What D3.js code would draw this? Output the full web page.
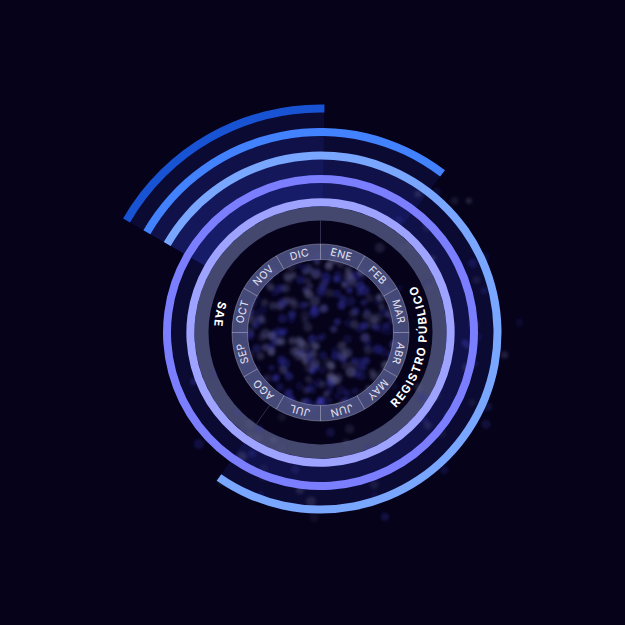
<!DOCTYPE html>
<html>
<head>
<meta charset="utf-8">
<script src="https://cdn.jsdelivr.net/npm/d3@7"></script>
<style>
html,body{margin:0;padding:0;background:#05021a;}
svg{display:block;}
</style>
</head>
<body>
<svg id="chart" width="625" height="625"></svg>
<script>
// ---- data ----
const months = ["ENE","FEB","MAR","ABR","MAY","JUN","JUL","AGO","SEP","OCT","NOV","DIC"];
const ringNames = ["serie1","serie2","serie3","serie4","serie5"];   // outermost -> innermost
const ringSpanDeg = [61, 97.5, 275, 360, 360];                        // angular extent of each ring
const ringStartDeg = 300;                                             // all rings start at the same angle
const groupLabels = ["REGISTRO PÚBLICO", "SAE"];

// ---- styles / layout ----
const ringColors = ["#1853d4", "#4282ff", "#79a6ff", "#7b7eff", "#9ea3ff"];
const labelAngleDeg = [99, 280];
const W = 625, H = 625, cx = 320.5, cy = 332.5;

const svg = d3.select("#chart");
svg.append("rect").attr("width", W).attr("height", H).attr("fill", "#05021a");

const defs = svg.append("defs");
defs.append("filter").attr("id", "blur").attr("x", "-100%").attr("y", "-100%")
  .attr("width", "300%").attr("height", "300%")
  .append("feGaussianBlur").attr("stdDeviation", 1.7);

const g = svg.append("g").attr("transform", `translate(${cx},${cy})`);
const deg = d3.scaleLinear().domain([0, 360]).range([0, 2 * Math.PI]);
const rScale = d3.scaleLinear().domain([0, ringNames.length - 1]).range([224, 130]);
const arc = d3.arc();

// translucent bands behind each ring
g.append("g").selectAll("path").data(ringNames).join("path")
  .attr("d", (d, i) => arc({innerRadius: 126, outerRadius: rScale(i),
      startAngle: deg(ringStartDeg), endAngle: deg(ringStartDeg + ringSpanDeg[i])}))
  .attr("fill", "#2c36b8").attr("fill-opacity", 0.16);

// grey track
g.append("path").attr("d", arc({innerRadius: 112, outerRadius: 126, startAngle: 0, endAngle: 2 * Math.PI}))
  .attr("fill", "#44476e");

// decorative bokeh texture (deterministic)
const rnd = d3.randomLcg(0.3141);
const dotPalette = ["#3030a8", "#3c3cbc", "#565688", "#686892", "#28288e", "#5a5a84"];
const dots = [];
for (let k = 0; k < 300; k++) {
  const a = rnd() * 2 * Math.PI, rr = 80 * Math.sqrt(rnd());
  dots.push({x: rr * Math.sin(a), y: -rr * Math.cos(a), r: 3 + rnd() * 2, c: dotPalette[Math.floor(rnd() * 6)], o: 0.2 + rnd() * 0.28});
}
for (let k = 0; k < 70; k++) {
  const a = deg(20 + rnd() * 230), rr = 90 + rnd() * 110;
  dots.push({x: rr * Math.sin(a), y: -rr * Math.cos(a), r: 3 + rnd() * 2, c: dotPalette[Math.floor(rnd() * 6)], o: 0.12 + rnd() * 0.22});
}
g.append("g").attr("filter", "url(#blur)").selectAll("circle").data(dots).join("circle")
  .attr("cx", d => d.x).attr("cy", d => d.y).attr("r", d => d.r)
  .attr("fill", d => d.c).attr("fill-opacity", d => d.o);

// ring strokes
g.append("g").selectAll("path").data(ringNames).join("path")
  .attr("d", (d, i) => arc({innerRadius: rScale(i) - 4, outerRadius: rScale(i) + 4,
      startAngle: deg(ringStartDeg), endAngle: deg(ringStartDeg + ringSpanDeg[i])}))
  .attr("fill", (d, i) => ringColors[i]);

// thin radial guides at ring ends
const guideAngles = [ringStartDeg + ringSpanDeg[0] - 1, ringStartDeg + ringSpanDeg[2]];
g.append("g").selectAll("line").data(guideAngles).join("line")
  .attr("x1", a => 89 * Math.sin(deg(a))).attr("y1", a => -89 * Math.cos(deg(a)))
  .attr("x2", a => 112 * Math.sin(deg(a))).attr("y2", a => -112 * Math.cos(deg(a)))
  .attr("stroke", "#a0a0d0").attr("stroke-opacity", 0.35).attr("stroke-width", 0.8);

// month ring
const mScale = d3.scaleBand().domain(months).range([0, 2 * Math.PI]);
const mIn = 73, mOut = 88.5;
g.append("path").attr("d", arc({innerRadius: mIn, outerRadius: mOut, startAngle: 0, endAngle: 2 * Math.PI}))
  .attr("fill", "#4c5182").attr("fill-opacity", 0.9);
[mIn, mOut].forEach(r => g.append("circle").attr("r", r).attr("fill", "none")
  .attr("stroke", "#b4b4c8").attr("stroke-opacity", 0.55).attr("stroke-width", 0.8));
g.append("g").selectAll("line").data(months).join("line")
  .attr("x1", m => mIn * Math.sin(mScale(m))).attr("y1", m => -mIn * Math.cos(mScale(m)))
  .attr("x2", m => mOut * Math.sin(mScale(m))).attr("y2", m => -mOut * Math.cos(mScale(m)))
  .attr("stroke", "#c4c4d4").attr("stroke-opacity", 0.6).attr("stroke-width", 0.8);
g.append("g").selectAll("text").data(months).join("text")
  .attr("transform", m => `rotate(${(mScale(m) + mScale.bandwidth() / 2) * 180 / Math.PI}) translate(0,${-(mIn + mOut) / 2})`)
  .attr("text-anchor", "middle").attr("dominant-baseline", "central")
  .attr("font-family", "Inter, Roboto, sans-serif").attr("font-size", 10.5).attr("letter-spacing", 0.5)
  .attr("fill", "#e4e4f2").text(m => m);

// group labels on counter-clockwise arcs
const labelR = 106.5;
const pt = (a) => [labelR * Math.sin(deg(a)), -labelR * Math.cos(deg(a))];
groupLabels.forEach((lab, i) => {
  const c = labelAngleDeg[i], p1 = pt(c + 70), p2 = pt(c - 70);
  defs.append("path").attr("id", "lp" + i)
    .attr("d", `M${p1[0] + cx},${p1[1] + cy} A${labelR},${labelR} 0 0 0 ${p2[0] + cx},${p2[1] + cy}`);
  svg.append("text").attr("font-family", "Inter, Roboto, sans-serif").attr("font-size", 11.5)
    .attr("font-weight", 700).attr("letter-spacing", 1.4).attr("fill", "#ffffff")
    .append("textPath").attr("href", "#lp" + i).attr("startOffset", "50%").attr("text-anchor", "middle")
    .text(lab);
});
</script>
</body>
</html>
